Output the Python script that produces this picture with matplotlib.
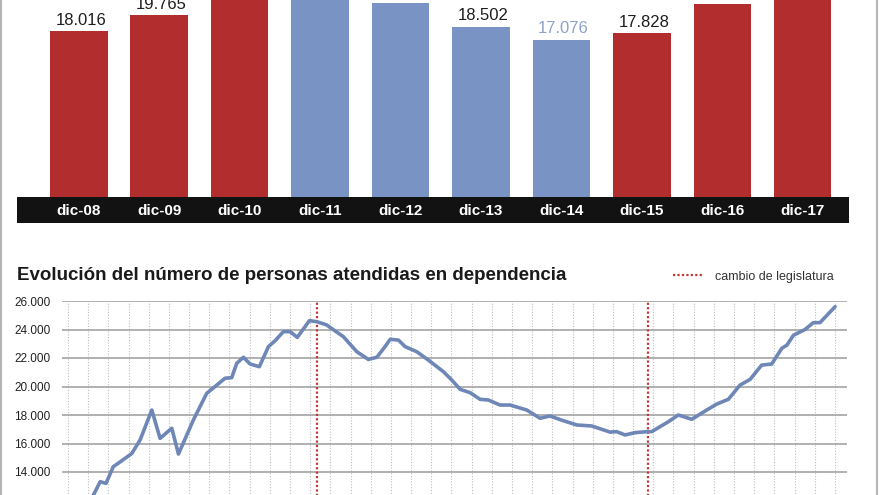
import matplotlib
matplotlib.use("Agg")
import matplotlib.pyplot as plt
from matplotlib.lines import Line2D
import numpy as np

plt.rcParams['font.family'] = ['Liberation Sans', 'DejaVu Sans']

# ---------------- data ----------------
anios = ['dic-08', 'dic-09', 'dic-10', 'dic-11', 'dic-12',
         'dic-13', 'dic-14', 'dic-15', 'dic-16', 'dic-17']
valores = [18016, 19765, 23200, 22400, 21170, 18502, 17076, 17828, 21020, 25600]
gobierno = ['r', 'r', 'r', 'b', 'b', 'b', 'b', 'r', 'r', 'r']

# monthly series (x in quarter-gridline units)
periodo = [1.16, 1.59, 1.88, 2.24, 2.66, 3.16, 3.57, 4.15, 4.56, 5.14, 5.47, 6.21,
           6.87, 7.37, 7.78, 8.11, 8.36, 8.69, 9.02, 9.48, 9.93, 10.26, 10.67, 11.00,
           11.36, 11.96, 12.32, 12.82, 12.98, 13.64, 14.31, 14.88, 15.30, 15.71, 15.96,
           16.37, 16.70, 17.28, 17.85, 18.60, 19.01, 19.43, 19.92, 20.42, 20.83, 21.41,
           21.90, 22.73, 23.39, 23.88, 24.54, 25.21, 25.95, 26.86, 27.19, 27.60, 28.10,
           28.68, 28.92, 29.75, 30.24, 30.91, 31.65, 32.15, 32.72, 33.30, 33.80, 34.37,
           34.87, 35.37, 35.62, 35.95, 36.52, 36.93, 37.26, 38.01]
personas = [12100, 13320, 13200, 14370, 14790, 15300, 16250, 18350, 16360, 17070, 15260, 17650,
            19520, 20100, 20580, 20620, 21630, 22050, 21580, 21390, 22800, 23210, 23850, 23850,
            23450, 24620, 24550, 24320, 24150, 23500, 22440, 21900, 22050, 22800, 23310,
            23260, 22800, 22440, 21860, 21040, 20460, 19800, 19570, 19100, 19050, 18700,
            18700, 18350, 17770, 17930, 17600, 17300, 17230, 16800, 16830, 16600, 16760,
            16830, 16830, 17530, 18000, 17700, 18350, 18770, 19100, 20100, 20500, 21500,
            21580, 22680, 22900, 23600, 24000, 24480, 24480, 25600]
cambios = [12.32, 28.75]
yticks = [12000, 14000, 16000, 18000, 20000, 22000, 24000, 26000]
n_grid = 39

RED = '#b22d2d'
BLUE = '#7893c4'
LINE = '#6f87b6'

W, H = 880, 495
fig = plt.figure(figsize=(W / 100, H / 100), dpi=100)
fig.patch.set_facecolor('white')


def rect(left, top, right, bottom):
    return [left / W, 1 - bottom / H, (right - left) / W, (bottom - top) / H]


# ---------------- bar chart ----------------
axb = fig.add_axes(rect(16.7, 0, 849.3, 196.7))
x = np.arange(len(anios))
cols = [RED if g == 'r' else BLUE for g in gobierno]
axb.bar(x, valores, width=0.715, color=cols)
axb.set_xlim(-0.772, 9.579)
axb.set_ylim(0, 21450)
axb.axis('off')
for i, v in enumerate(valores):
    c = '#8ea2cb' if anios[i] == 'dic-14' else '#1e1e1e'
    axb.annotate(f"{v:,}".replace(",", "."), xy=(i, v), xytext=(1.5, 4.8),
                 textcoords='offset points', ha='center', va='baseline',
                 fontsize=12, color=c)

axband = fig.add_axes(rect(16.7, 197.3, 849.3, 222.7))
axband.set_facecolor('#121212')
axband.set_xlim(-0.772, 9.579)
axband.set_ylim(0, 1)
axband.set_xticks([]); axband.set_yticks([])
for s in axband.spines.values():
    s.set_visible(False)
for i, lab in enumerate(anios):
    axband.text(i, 0.47, lab, ha='center', va='center', color='white',
                fontsize=11, fontweight='bold')

# ---------------- line chart ----------------
axl = fig.add_axes(rect(62, 301, 847, 529))
axl.set_xlim(-0.3, 38.6)
axl.set_ylim(10000, 26000)
for s in axl.spines.values():
    s.set_visible(False)
axl.set_yticks(yticks)
axl.set_yticklabels([f"{t:,}".replace(",", ".") for t in yticks],
                    fontsize=8.5, color='#222222')
axl.tick_params(axis='y', length=0, pad=8.3)
axl.set_xticks(np.arange(n_grid))
axl.tick_params(axis='x', length=0, labelbottom=False)
axl.grid(axis='y', color='#a3a3a3', linewidth=1.2, linestyle='-')
axl.grid(axis='x', color='#bdbdbd', linewidth=0.8, linestyle=(0, (1, 1.5)))
axl.set_axisbelow(True)
for c in cambios:
    axl.axvline(c, color='#c23a32', linewidth=1.6, linestyle=(0, (1, 1)), zorder=2)
axl.plot(periodo, personas, color=LINE, linewidth=2.6, solid_joinstyle='round',
         solid_capstyle='round', zorder=3)

fig.text(17 / W, 1 - 280 / H, "Evolución del número de personas atendidas en dependencia",
         fontsize=13.5, fontweight='bold', color='#1a1a1a', va='baseline')
fig.add_artist(Line2D([673 / W, 702 / W], [1 - 275 / H, 1 - 275 / H],
                      transform=fig.transFigure, color='#c23a32', linewidth=1.6,
                      linestyle=(0, (1, 1))))
fig.text(715 / W, 1 - 280 / H, "cambio de legislatura", fontsize=9,
         color='#333333', va='baseline')

# frame lines
for xp in (1.0, 876.5):
    fig.add_artist(Line2D([xp / W, xp / W], [0, 1], transform=fig.transFigure,
                          color='#b5b5b5', linewidth=1.5))

fig.savefig('out.png', dpi=100, facecolor='white')
